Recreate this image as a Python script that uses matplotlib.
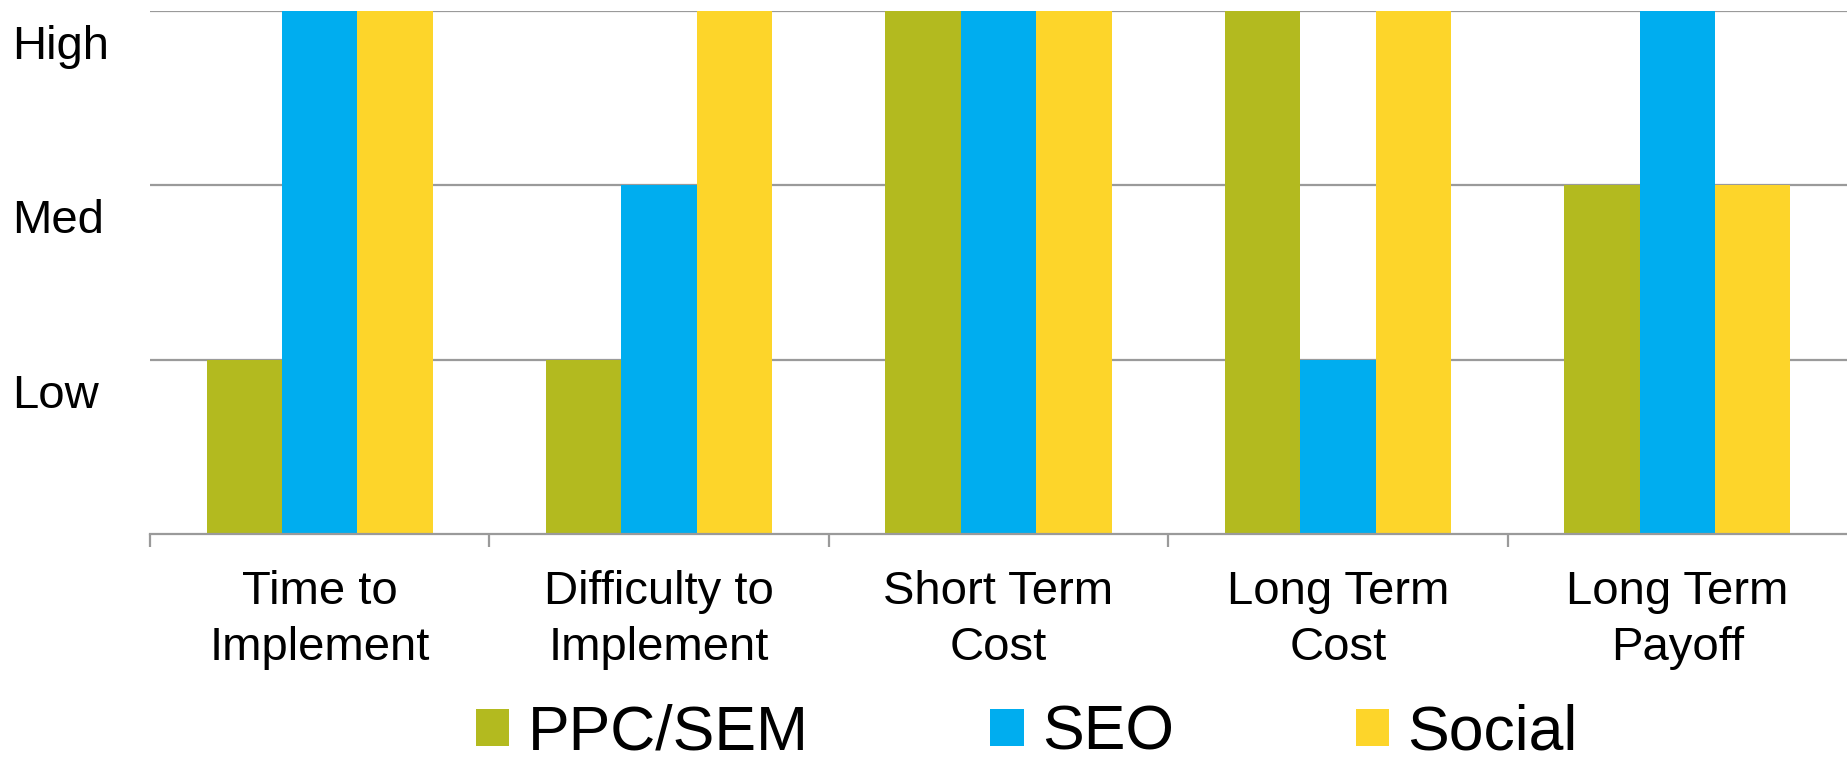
import matplotlib
matplotlib.use("Agg")
import matplotlib.pyplot as plt
from matplotlib.transforms import ScaledTranslation
import numpy as np

plt.rcParams['font.family'] = ['Liberation Sans', 'DejaVu Sans']

categories = ["Time to\nImplement", "Difficulty to\nImplement", "Short Term\nCost",
              "Long Term\nCost", "Long Term\nPayoff"]
series_names = ["PPC/SEM", "SEO", "Social"]
ppc_sem = [1, 1, 3, 3, 2]
seo = [3, 2, 3, 1, 3]
social = [3, 3, 3, 3, 2]
level_labels = ["Low", "Med", "High"]
level_values = [1, 2, 3]

colors = ["#B3BA1F", "#00ADEF", "#FDD52A"]
grid_col = "#9a9a9a"

fig = plt.figure(figsize=(18.47, 7.62), dpi=100)
ax = fig.add_axes([150 / 1847, 1 - 534 / 762, 1 - 150 / 1847, (534 - 10.6) / 762])

x = np.arange(len(categories))
w = 2 / 9
for i, (vals, name) in enumerate(zip([ppc_sem, seo, social], series_names)):
    ax.bar(x + (i - 1) * w, vals, width=w, color=colors[i], label=name, zorder=2)

ax.set_xlim(-0.5, len(categories) - 0.5)
ax.set_ylim(0, 3)

# gridlines + level names sitting below each line
ax.set_yticks(level_values)
ax.set_yticklabels(level_labels, fontsize=34, ha="left")
ax.yaxis.grid(True, color=grid_col, linewidth=1.6, zorder=0)
ax.tick_params(axis="y", length=0, pad=99)
for lab in ax.get_yticklabels():
    lab.set_transform(lab.get_transform() + ScaledTranslation(0, -0.31, fig.dpi_scale_trans))

# category boundaries as ticks, names on minor ticks
ax.set_xticks(np.arange(-0.5, len(categories) - 1, 1.0))
ax.set_xticklabels([])
ax.set_xticks(x, minor=True)
ax.set_xticklabels(categories, minor=True, fontsize=34, linespacing=1.34)
ax.tick_params(axis="x", which="major", length=9, width=1.6, color=grid_col)
ax.tick_params(axis="x", which="minor", length=0, pad=26)

for s in ["top", "right", "left"]:
    ax.spines[s].set_visible(False)
ax.spines["bottom"].set_color(grid_col)
ax.spines["bottom"].set_linewidth(1.6)
ax.set_axisbelow(True)

fig.legend(loc="center", bbox_to_anchor=(1027 / 1847, 1 - 733 / 762), ncol=3,
           frameon=False, fontsize=45, handlelength=0.53, handleheight=0.53,
           handletextpad=0.3, columnspacing=2.9, borderpad=0)

fig.savefig("out.png", dpi=100)
